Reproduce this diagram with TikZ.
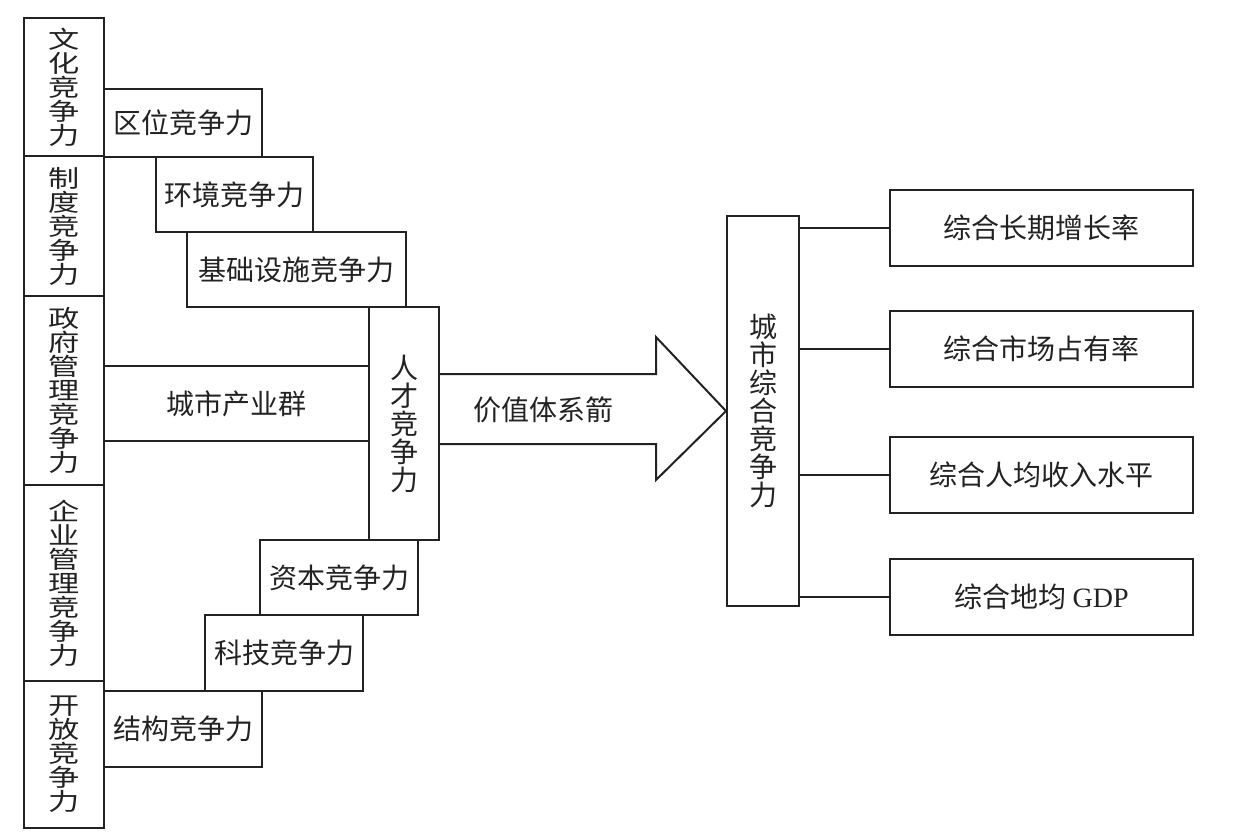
\documentclass[tikz,border=0pt]{standalone}
\usepackage{fontspec}
\setmainfont{Noto Sans CJK SC}
\newfontfamily\cjkwide[FakeStretch=1.3]{Noto Sans CJK SC}
\newfontfamily\latinfont{Liberation Serif}
\usetikzlibrary{calc}
\definecolor{ink}{HTML}{222222}
\tikzset{
  box/.style={draw=ink, line width=1pt, inner sep=0pt, text=ink, font=\fontsize{14}{14}\selectfont},
  px/.style 2 args={minimum width=#1*0.5pt, minimum height=#2*0.5pt},
  cell/.style={box, align=center, font=\cjkwide\fontsize{12}{12}\selectfont},
  tall/.style={box, align=center, font=\fontsize{14}{14}\selectfont},
  link/.style={draw=ink, line width=1pt},
}

\begin{document}
\begin{tikzpicture}[x=0.5pt, y=-0.5pt]
  \useasboundingbox (0,0) rectangle (1233,837);
  % left column
  \node[cell, px={80}{138}] (culture) at (64,87) {文\\化\\竞\\争\\力};
  \node[cell, px={80}{140}] (system) at (64,226) {制\\度\\竞\\争\\力};
  \node[cell, px={80}{189}] (govern) at (64,390.5) {政\\府\\管\\理\\竞\\争\\力};
  \node[cell, px={80}{196}] (enterprise) at (64,583) {企\\业\\管\\理\\竞\\争\\力};
  \node[cell, px={80}{147}] (opening) at (64,754.5) {开\\放\\竞\\争\\力};
  % staircase
  \node[box, px={158}{68}] (location) at (183,123) {区位竞争力};
  \node[box, px={157}{75}] (environ) at (234.5,194.5) {环境竞争力};
  \node[box, px={219}{75}] (infra) at (296.5,269.5) {基础设施竞争力};
  \node[tall, px={70}{233}] (talent) at (404,423.5) {人\\才\\竞\\争\\力};
  \node[box, px={158}{75}] (capital) at (339,577.5) {资本竞争力};
  \node[box, px={158}{76}] (tech) at (284,653) {科技竞争力};
  \node[box, px={158}{76}] (structure) at (183,729) {结构竞争力};
  % industry cluster band
  \node[inner sep=0pt, px={265}{75}, font=\fontsize{14}{14}\selectfont, text=ink] (cluster) at (236.5,403.5) {城市产业群};
  \draw[link] (govern.east |- cluster.north) -- (talent.west |- cluster.north);
  \draw[link] (govern.east |- cluster.south) -- (talent.west |- cluster.south);
  % city box and value arrow
  \node[tall, px={72}{390}] (city) at (763,411) {城\\市\\综\\合\\竞\\争\\力};
  \draw[link, line join=miter] (talent.east |- 0,374) -- (656,374) -- (656,337) -- (city.west)
    -- (656,480) -- (656,444) -- (talent.east |- 0,444);
  \node[font=\fontsize{14}{14}\selectfont, text=ink] (value) at (543,410) {价值体系箭};
  % results
  \node[box, px={303}{76}] (growth) at (1041.5,228) {综合长期增长率};
  \node[box, px={303}{76}] (share) at (1041.5,349) {综合市场占有率};
  \node[box, px={303}{76}] (income) at (1041.5,475) {综合人均收入水平};
  \node[box, px={303}{76}] (gdp) at (1041.5,597) {综合地均 {\latinfont GDP}};
  \foreach \r in {growth,share,income,gdp}
    \draw[link] (city.east |- \r.west) -- (\r.west);
\end{tikzpicture}
\end{document}
